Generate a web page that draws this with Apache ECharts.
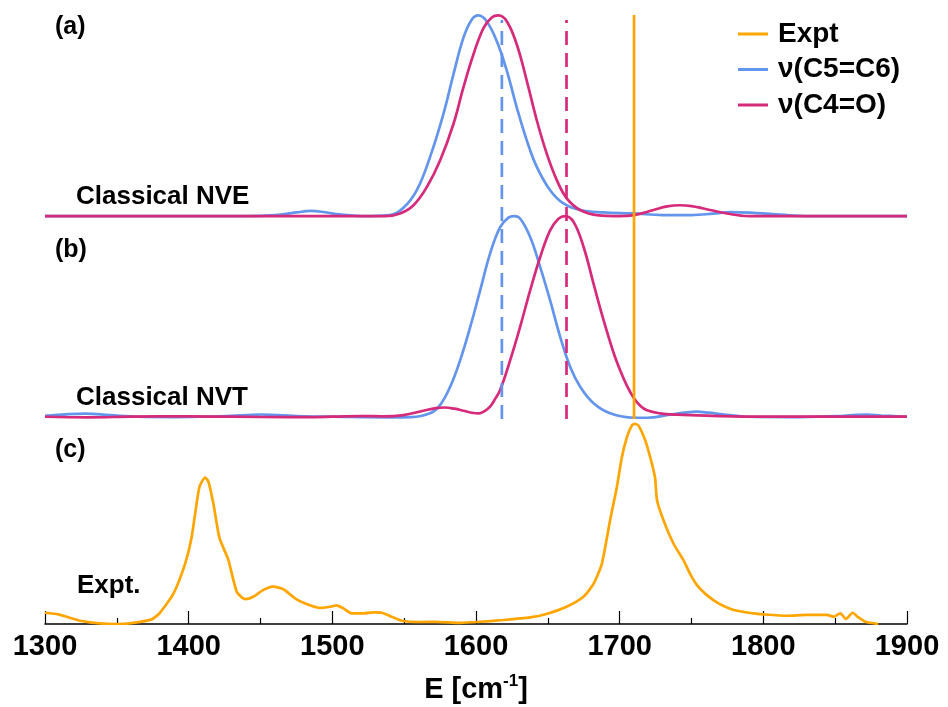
<!DOCTYPE html>
<html>
<head>
<meta charset="utf-8">
<title>Vibrational spectra</title>
<script src="https://cdn.jsdelivr.net/npm/echarts@6/dist/echarts.min.js"></script>
<style>
  html, body { margin: 0; padding: 0; background: #ffffff; }
  #chart-container { width: 948px; height: 707px; }
</style>
</head>
<body>
<div id="chart-container"></div>
<script>
// energy axis ticks
const xTicks = [1300, 1400, 1500, 1600, 1700, 1800, 1900];

// panel (a) Classical NVE, [E, normalised intensity]
const nveC5C6 = [
    [1300, 0], [1400, 0], [1440, 0], [1460, 0.005], [1475, 0.018], [1485, 0.026], [1495, 0.019],
    [1505, 0.008], [1520, 0], [1540, 0.005], [1549.5, 0.041], [1558.8, 0.129], [1568, 0.294],
    [1577.3, 0.508], [1584.3, 0.706], [1591.2, 0.888], [1597, 0.979], [1601.7, 1.0], [1607.5, 0.97],
    [1614.5, 0.871], [1621.5, 0.723], [1628.4, 0.541], [1635.4, 0.376], [1642.4, 0.244],
    [1651.6, 0.129], [1660.9, 0.063], [1672.5, 0.03], [1688.7, 0.018], [1709.7, 0.013],
    [1730, 0.005], [1750, 0.005], [1765, 0.012], [1777, 0.02], [1795, 0.015], [1812, 0.007],
    [1830, 0], [1900, 0]
];
const nveC4O = [
    [1300, 0], [1537, 0], [1547.2, 0.013], [1556.5, 0.054], [1565.8, 0.145], [1575, 0.277],
    [1584.3, 0.459], [1591.2, 0.64], [1598.2, 0.805], [1605.2, 0.937], [1611, 0.99], [1615.6, 1.0],
    [1621.5, 0.97], [1628.4, 0.855], [1635.4, 0.673], [1642.4, 0.475], [1649.3, 0.31],
    [1656.3, 0.178], [1663.3, 0.087], [1672.5, 0.03], [1684.1, 0.005], [1700, 0], [1710, 0.005],
    [1723.6, 0.03], [1733, 0.048], [1742, 0.054], [1750, 0.05], [1758.4, 0.038], [1774.6, 0.013],
    [1790, 0], [1900, 0]
];

// panel (b) Classical NVT
const nvtC5C6 = [
    [1300, 0.005], [1315, 0.012], [1328, 0.015], [1345, 0.008], [1365, 0], [1390, -0.002],
    [1420, 0.002], [1440, 0.008], [1450, 0.011], [1462, 0.008], [1480, 0.002], [1500, 0],
    [1540, -0.003], [1555, -0.002], [1568, 0.017], [1575, 0.058], [1582, 0.149], [1589, 0.282],
    [1596, 0.448], [1602.9, 0.63], [1609.8, 0.813], [1616.8, 0.945], [1622.6, 0.992],
    [1626.6, 1.0], [1630.7, 0.988], [1637.7, 0.896], [1644.7, 0.746], [1651.6, 0.58],
    [1658.6, 0.398], [1665.5, 0.249], [1672.5, 0.149], [1681.8, 0.067], [1693.4, 0.017],
    [1709.7, -0.005], [1719, -0.005], [1735, 0.01], [1745, 0.02], [1753.8, 0.025], [1762, 0.02],
    [1770, 0.013], [1788.6, 0], [1820, -0.002], [1850, 0.003], [1865, 0.009], [1872, 0.01],
    [1882, 0.006], [1900, 0]
];
const nvtC4O = [
    [1300, 0], [1330, -0.003], [1360, 0], [1400, 0.002], [1430, 0], [1470, -0.002], [1500, 0],
    [1520, 0.003], [1535, 0.002], [1549.5, 0.008], [1563.4, 0.03], [1572, 0.043], [1578.5, 0.046],
    [1585, 0.04], [1591.2, 0.03], [1597, 0.02], [1602.4, 0.017], [1606, 0.028], [1609.8, 0.05],
    [1613, 0.085], [1616.8, 0.133], [1623.8, 0.282], [1630.7, 0.448], [1637.7, 0.63],
    [1644.7, 0.796], [1651.6, 0.929], [1657.4, 0.987], [1662.1, 1.0], [1668, 0.97],
    [1674.9, 0.846], [1681.8, 0.663], [1688.8, 0.481], [1695.7, 0.32], [1700.4, 0.23],
    [1705, 0.155], [1709.7, 0.095], [1714.3, 0.055], [1719, 0.032], [1728, 0.017], [1740, 0.01],
    [1760, 0.005], [1800, 0], [1900, 0]
];

// panel (c) experiment
const expt = [
    [1300, 0.056], [1309.3, 0.048], [1315, 0.036], [1325.5, 0.015], [1338, 0.003], [1350, 0],
    [1361.5, 0.006], [1374.3, 0.023], [1380, 0.056], [1389.3, 0.15], [1397.5, 0.30], [1402, 0.43],
    [1407.4, 0.68], [1411.4, 0.73], [1413.7, 0.71], [1417.2, 0.60], [1421.4, 0.43], [1427.6, 0.32],
    [1433.5, 0.16], [1439.3, 0.124], [1445, 0.136], [1452, 0.17], [1459, 0.186], [1466, 0.173],
    [1474, 0.128], [1480, 0.106], [1491.5, 0.08], [1498.4, 0.086], [1503, 0.093], [1507.7, 0.078],
    [1513.5, 0.053], [1521.6, 0.053], [1528.6, 0.058], [1534.4, 0.056], [1541.4, 0.036],
    [1548.4, 0.016], [1561, 0.01], [1572.7, 0.011], [1589, 0.006], [1600.6, 0.01], [1619, 0.02],
    [1637.7, 0.033], [1649, 0.05], [1663, 0.086], [1674.8, 0.136], [1681.8, 0.20], [1687.6, 0.30],
    [1693.4, 0.52], [1698, 0.68], [1701.5, 0.83], [1705, 0.93], [1708.5, 0.99], [1710.5, 0.997],
    [1713, 0.99], [1717.8, 0.915], [1722.4, 0.80], [1724.7, 0.725], [1726, 0.617], [1730.5, 0.517],
    [1737.5, 0.40], [1744.4, 0.318], [1749, 0.25], [1753.8, 0.194], [1760.7, 0.144],
    [1768.8, 0.103], [1779.3, 0.07], [1793, 0.053], [1800, 0.048], [1816.4, 0.041],
    [1830.3, 0.045], [1844.3, 0.045], [1849, 0.036], [1853.6, 0.053], [1857.5, 0.025],
    [1862.2, 0.056], [1865.6, 0.036], [1871, 0.011], [1880, 0]
];

// reference peak positions drawn as vertical lines
const peakC5C6 = 1618;
const peakC4O = 1663;
const peakExpt = 1710;

const offsetA = 2.033;
const offsetB = 1.033;

const colorExpt = '#ffa500';
const colorC5C6 = '#6495ed';
const colorC4O = '#d62a7a';

const shift = (arr, off) => arr.map(p => [p[0], p[1] + off]);

const curve = (name, data, color, smooth) => ({
    name: name,
    type: 'line',
    data: data,
    showSymbol: false,
    smooth: smooth,
    lineStyle: { color: color, width: 2.7 },
    itemStyle: { color: color },
    animation: false
});

const vline = (name, x, y0, y1, color, type) => ({
    name: name,
    type: 'line',
    data: [[x, y0], [x, y1]],
    showSymbol: false,
    lineStyle: { color: color, width: 2.7, type: type },
    itemStyle: { color: color },
    animation: false,
    z: 5
});

const labelFont = 'bold 26px "Liberation Sans", Arial, sans-serif';
const panelFont = 'bold 25px "Liberation Sans", Arial, sans-serif';

const chartContainer = document.getElementById('chart-container');
const myChart = echarts.init(chartContainer, null, { renderer: 'canvas' });

const options = {
    backgroundColor: '#ffffff',
    textStyle: { fontFamily: '"Liberation Sans", Arial, sans-serif' },
    grid: { left: 45, right: 41, top: 10, bottom: 83, outerBoundsMode: 'none', containLabel: false },
    legend: {
        data: ['Expt', 'ν(C5=C6)', 'ν(C4=O)'],
        orient: 'vertical',
        left: 733,
        top: 15,
        icon: 'rect',
        itemWidth: 30,
        itemHeight: 3,
        itemGap: 7.5,
        selectedMode: false,
        textStyle: {
            fontSize: 28,
            fontWeight: 'bold',
            color: '#000',
            lineHeight: 28,
            padding: [0, 0, 0, 5]
        }
    },
    xAxis: {
        type: 'value',
        min: xTicks[0],
        max: xTicks[xTicks.length - 1],
        interval: 100,
        name: '{b|E [cm}{s|-1}{b|]}',
        nameLocation: 'middle',
        nameGap: 49,
        nameTextStyle: {
            rich: {
                b: { fontSize: 29, fontWeight: 'bold', color: '#000', lineHeight: 34 },
                s: { fontSize: 17, fontWeight: 'bold', color: '#000', verticalAlign: 'top', lineHeight: 20 }
            }
        },
        axisLine: { lineStyle: { color: '#000', width: 1.5 } },
        axisTick: { inside: true, length: 13, lineStyle: { color: '#000', width: 1.2 } },
        minorTick: { show: true, splitNumber: 2, length: 6, lineStyle: { color: '#000', width: 1.2 } },
        axisLabel: {
            fontSize: 29,
            fontWeight: 'bold',
            color: '#000',
            margin: 8,
            formatter: value => String(value)
        },
        splitLine: { show: false }
    },
    yAxis: {
        type: 'value',
        min: 0,
        max: 3.06,
        show: false
    },
    graphic: [
        { type: 'text', x: 55, y: 27, style: { text: '(a)', font: panelFont, fill: '#000', verticalAlign: 'middle' } },
        { type: 'text', x: 55, y: 250, style: { text: '(b)', font: panelFont, fill: '#000', verticalAlign: 'middle' } },
        { type: 'text', x: 55, y: 450, style: { text: '(c)', font: panelFont, fill: '#000', verticalAlign: 'middle' } },
        { type: 'text', x: 76, y: 197, style: { text: 'Classical NVE', font: labelFont, fill: '#000', verticalAlign: 'middle' } },
        { type: 'text', x: 76, y: 398, style: { text: 'Classical NVT', font: labelFont, fill: '#000', verticalAlign: 'middle' } },
        { type: 'text', x: 77, y: 586, style: { text: 'Expt.', font: labelFont, fill: '#000', verticalAlign: 'middle' } }
    ],
    series: [
        curve('ν(C5=C6)', shift(nveC5C6, offsetA), colorC5C6, 0.4),
        curve('ν(C4=O)', shift(nveC4O, offsetA), colorC4O, 0.4),
        curve('ν(C5=C6)', shift(nvtC5C6, offsetB), colorC5C6, 0.4),
        curve('ν(C4=O)', shift(nvtC4O, offsetB), colorC4O, 0.4),
        curve('Expt', expt, colorExpt, 0.2),
        vline('ν(C5=C6)', peakC5C6, 1.022, 3.01, colorC5C6, [14, 8]),
        vline('ν(C4=O)', peakC4O, 1.022, 3.01, colorC4O, [14, 8]),
        vline('Expt', peakExpt, 1.022, 3.035, colorExpt, 'solid')
    ]
};

myChart.setOption(options);

window.addEventListener('resize', function () {
    myChart.resize();
});
</script>
</body>
</html>
